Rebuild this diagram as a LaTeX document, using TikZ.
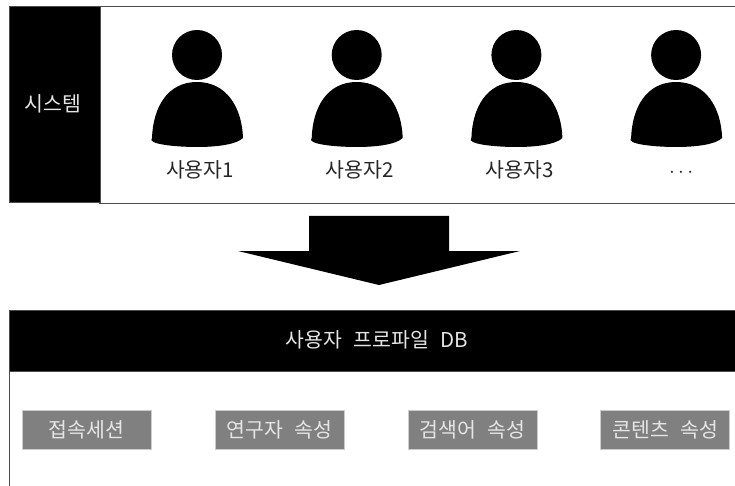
\documentclass[tikz,border=0pt]{standalone}
\usepackage{fontspec}
\setmainfont[WordSpace=2.5]{Noto Sans CJK KR}
\usetikzlibrary{chains,positioning}

\begin{document}
\begin{tikzpicture}[x=1pt,y=-1pt]
\tikzstyle{every node}=[font=\fontsize{20.5}{24}\selectfont]
\edef\sizehead{50pt}
\tikzstyle{userhead}=[circle,fill=black,inner sep=0pt,minimum size=\sizehead]
\tikzstyle{userlabel}=[text=black!85,inner sep=0pt,below=80pt of #1]
\tikzstyle{attrbox}=[fill=black!50,draw=black!20,line width=.6pt,text=white!90!black,inner sep=0pt,minimum width=129pt,minimum height=39pt]
\tikzstyle{darkbar}=[fill=black,draw=black!70,line width=.8pt,text=white!90!black,inner sep=0pt]
\newcommand{\userbodyat}[1]{%
 \fill [black] (#1) ++(-45,83) .. controls +(1,-30) and +(-30,0) .. ++(45,-56)
  .. controls +(30,0) and +(-1,-30) .. ++(46,56)
  .. controls +(-6,6) and +(22,0) .. ++(-46,9)
  .. controls +(-22,0) and +(-6,6) .. cycle;}
\useasboundingbox (0,0) rectangle (735,486);
% top panel
\draw [black!70,line width=.8pt] (99,6) -- (735,6) (99,203) -- (735,203);
\node [darkbar,minimum width=90.5pt,minimum height=196pt,anchor=north west] (system) at (9,6) {};
\node [text=white!90!black,inner sep=0pt] (systemlabel) at (53,104) {시스템};
\begin{scope}[start chain=1 going right,node distance=109.3pt]
 \node [on chain=1,userhead] (head1) at (197,55) {};
 \node [on chain=1,userhead] (head2) {};
 \node [on chain=1,userhead] (head3) {};
 \node [on chain=1,userhead] (head4) {};
\end{scope}
\userbodyat{head1.center}
\userbodyat{head2.center}
\userbodyat{head3.center}
\userbodyat{head4.center}
\node [userlabel=head1,xshift=3pt] (user1) {사용자1};
\node [userlabel=head2,xshift=3pt] (user2) {사용자2};
\node [userlabel=head3,xshift=3pt] (user3) {사용자3};
\node [userlabel=head4,xshift=5pt,yshift=-8pt] (user4) {$\cdots$};
% big arrow
\fill [black] (309,216) -- (449,216) -- (449,251) -- (520,251) -- (379,285)
 -- (238,251) -- (309,251) -- cycle;
% bottom panel
\node [darkbar,minimum width=727pt,minimum height=61pt,anchor=north west] (profile) at (9,310) {};
\node [text=white!90!black,inner sep=0pt] (profilelabel) at (377,340) {사용자 프로파일 DB};
\draw [black!70,line width=.8pt] (profile.south west) -- ++(0,115);
\begin{scope}[start chain=2 going right,node distance=63.3pt]
 \node [on chain=2,attrbox,anchor=west] (session) at (21.7,429.5) {접속세션};
 \node [on chain=2,attrbox] (researcher) {연구자 속성};
 \node [on chain=2,attrbox] (keyword) {검색어 속성};
 \node [on chain=2,attrbox] (contents) {콘텐츠 속성};
\end{scope}
\end{tikzpicture}
\end{document}
